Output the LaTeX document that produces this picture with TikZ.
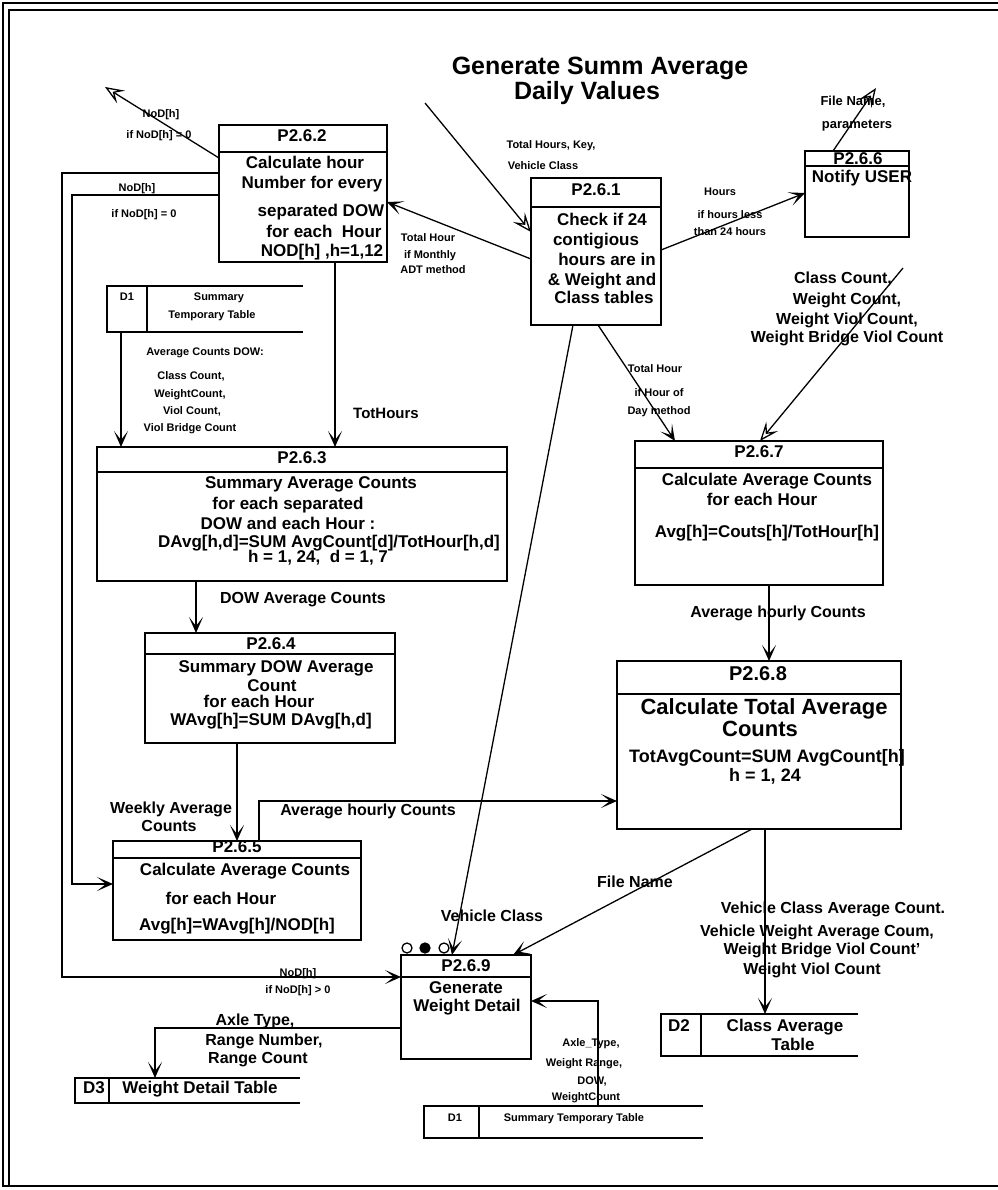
\documentclass[tikz,border=0pt]{standalone}
\usepackage{fontspec}
\setmainfont{Liberation Sans}
\usetikzlibrary{arrows.meta,calc}
\begin{document}
\begin{tikzpicture}[x=1pt,y=-1pt,
  proc/.style={draw, line width=1.8pt, anchor=north west, inner sep=0pt, outer sep=0pt},
  store/.style={anchor=north west, inner sep=0pt, outer sep=0pt},
  conn/.style={line width=1.8pt, -{Stealth[length=16pt,width=14pt,inset=9pt]}},
  diag/.style={line width=1.3pt, -{Stealth[length=16pt,width=14pt,inset=9pt]}},
  odiag/.style={line width=1.3pt, -{Stealth[open,fill=white,length=19pt,width=15pt,inset=8pt]}},
  plain/.style={line width=1.8pt},
  txt/.style={inner sep=0pt, text height=0.72em, text depth=0pt},
  hdr/.style={txt, font=\bfseries\fontsize{17}{19}\selectfont},
  body/.style={txt, font=\bfseries\fontsize{17}{19}\selectfont},
  small/.style={txt, font=\bfseries\fontsize{11}{12}\selectfont},
  mid/.style={txt, font=\bfseries\fontsize{16}{18}\selectfont},
]
\useasboundingbox (0,0) rectangle (997,1190);
% frame
\draw[plain] (1000,3) -- (3,3) -- (3,1186) -- (1000,1186);
\draw[plain] (1000,10) -- (9,10) -- (9,1186);

% title
\node[txt, font=\bfseries\fontsize{25}{28}\selectfont] (title1) at (600,71) {Generate Summ Average};
\node[txt, font=\bfseries\fontsize{25}{28}\selectfont] (title2) at (587,96) {Daily Values};

% process boxes
\node[proc, minimum width=168pt, minimum height=137pt] (p262) at (219,125) {};
\node[proc, minimum width=130pt, minimum height=147pt] (p261) at (531,178) {};
\node[proc, minimum width=104pt, minimum height=86pt] (p266) at (805,151) {};
\node[proc, minimum width=248pt, minimum height=144pt] (p267) at (635,441) {};
\node[proc, minimum width=410pt, minimum height=134pt] (p263) at (97,447) {};
\node[proc, minimum width=250pt, minimum height=110pt] (p264) at (145,633) {};
\node[proc, minimum width=248pt, minimum height=99pt] (p265) at (113,841) {};
\node[proc, minimum width=284pt, minimum height=168pt] (p268) at (617,661) {};
\node[proc, minimum width=130pt, minimum height=104pt] (p269) at (401,955) {};

% dividers
\draw[plain] ($(p262.north west)+(0,27)$) -- ($(p262.north east)+(0,27)$);
\draw[plain] ($(p261.north west)+(0,29)$) -- ($(p261.north east)+(0,29)$);
\draw[plain] ($(p266.north west)+(0,15)$) -- ($(p266.north east)+(0,15)$);
\draw[plain] ($(p267.north west)+(0,27)$) -- ($(p267.north east)+(0,27)$);
\draw[plain] ($(p263.north west)+(0,25)$) -- ($(p263.north east)+(0,25)$);
\draw[plain] ($(p264.north west)+(0,21)$) -- ($(p264.north east)+(0,21)$);
\draw[plain] ($(p265.north west)+(0,17)$) -- ($(p265.north east)+(0,17)$);
\draw[plain] ($(p268.north west)+(0,33)$) -- ($(p268.north east)+(0,33)$);
\draw[plain] ($(p269.north west)+(0,22)$) -- ($(p269.north east)+(0,22)$);

% data stores
\node[store, minimum width=196pt, minimum height=46pt] (d1a) at (107,286) {};
\node[store, minimum width=279pt, minimum height=32pt] (d1b) at (424,1106) {};
\node[store, minimum width=197pt, minimum height=42pt] (d2) at (661,1014) {};
\node[store, minimum width=225pt, minimum height=25pt] (d3) at (75,1078) {};
\draw[plain] (d1a.north east) -- (d1a.north west) -- (d1a.south west) -- (d1a.south east);
\draw[plain] ($(d1a.north west)+(40,0)$) -- ($(d1a.south west)+(40,0)$);
\draw[plain] (d1b.north east) -- (d1b.north west) -- (d1b.south west) -- (d1b.south east);
\draw[plain] ($(d1b.north west)+(55,0)$) -- ($(d1b.south west)+(55,0)$);
\draw[plain] (d2.north east) -- (d2.north west) -- (d2.south west) -- (d2.south east);
\draw[plain] ($(d2.north west)+(40,0)$) -- ($(d2.south west)+(40,0)$);
\draw[plain] (d3.north east) -- (d3.north west) -- (d3.south west) -- (d3.south east);
\draw[plain] ($(d3.north west)+(34,0)$) -- ($(d3.south west)+(34,0)$);

% circles above P2.6.9
\node[circle, draw, line width=1.3pt, minimum size=10pt, inner sep=0pt] (c1) at (407,948) {};
\node[circle, draw, fill=black, line width=1.3pt, minimum size=10pt, inner sep=0pt] (c2) at (425,948) {};
\node[circle, draw, line width=1.3pt, minimum size=10pt, inner sep=0pt] (c3) at (444,948) {};

% free ends
\coordinate (src1) at (425,103);
\coordinate (snk4) at (876,88);
\coordinate (snk5) at (105,87);
\coordinate (src14) at (903,268);

% connectors
\draw[odiag] (src1) -- ($(p261.north west)+(0,54)$);
\draw[diag] ($(p261.north west)+(0,81)$) -- ($(p262.north east)+(0,77)$);
\draw[diag] ($(p261.north east)+(0,72)$) -- ($(p266.north west)+(0,42)$);
\draw[odiag] ($(p266.north west)+(28,0)$) -- (snk4);
\draw[odiag] ($(p262.north west)+(0,33)$) -- (snk5);
\draw[conn] ($(p262.north west)+(0,48)$) -- ++(-157,0) |- ($(p269.north west)+(0,22)$);
\draw[conn] ($(p262.north west)+(0,70)$) -- ++(-147,0) |- ($(p265.north west)+(0,43)$);
\draw[conn] ($(d1a.south west)+(14,0)$) -- ($(p263.north west)+(24,0)$);
\draw[conn] ($(p262.south west)+(116,0)$) -- ($(p263.north west)+(238,0)$);
\draw[conn] ($(p263.south west)+(99,0)$) -- ($(p264.north west)+(51,0)$);
\draw[conn] ($(p264.south west)+(92,0)$) -- ($(p265.north west)+(124,0)$);
\draw[conn] ($(p265.north west)+(146,0)$) |- ($(p268.north west)+(0,140)$);
\draw[diag] ($(p261.south west)+(67,0)$) -- ($(p267.north west)+(40,0)$);
\draw[odiag] (src14) -- ($(p267.north west)+(125,0)$);
\draw[conn] ($(p267.south west)+(134,0)$) -- ($(p268.north west)+(152,0)$);
\draw[diag] ($(p261.south west)+(42,0)$) -- ($(p269.north west)+(51,0)$);
\draw[diag] ($(p268.south west)+(135,0)$) -- ($(p269.north west)+(112,0)$);
\draw[conn] ($(p268.south west)+(148,0)$) -- ($(d2.north west)+(104,0)$);
\draw[conn] ($(p269.north west)+(0,73)$) -| ($(d3.north west)+(80,0)$);
\draw[conn] ($(d1b.north west)+(174,0)$) |- ($(p269.north east)+(0,46)$);

% box texts
\node[hdr] (h262) at (302,138) {P2.6.2};
\node[body] (b262a) at (305,165) {Calculate hour};
\node[body] (b262b) at (312,185) {Number for every};
\node[body] (b262c) at (321,213) {separated DOW};
\node[body] (b262d) at (324,234) {for each\ \ Hour};
\node[body] (b262e) at (322,253) {NOD[h] ,h=1,12};

\node[hdr] (h261) at (596,192) {P2.6.1};
\node[body] (b261a) at (602,222) {Check if 24};
\node[body] (b261b) at (596,242) {contigious};
\node[body] (b261c) at (607,262) {hours are in};
\node[body] (b261d) at (602,282) {\& Weight and};
\node[body] (b261e) at (604,300) {Class tables};

\node[hdr] (h266) at (858,161) {P2.6.6};
\node[body] (b266) at (862,179) {Notify USER};

\node[hdr] (h267) at (759,454) {P2.6.7};
\node[body] (b267a) at (767,482) {Calculate Average Counts};
\node[body] (b267b) at (762,502) {for each Hour};
\node[body] (b267c) at (767,534) {Avg[h]=Couts[h]/TotHour[h]};

\node[hdr] (h263) at (302,460) {P2.6.3};
\node[body] (b263a) at (311,485) {Summary Average Counts};
\node[body] (b263b) at (288,506) {for each separated};
\node[body] (b263c) at (288,526) {DOW and each Hour :};
\node[body] (b263d) at (329,544) {DAvg[h,d]=SUM AvgCount[d]/TotHour[h,d]};
\node[body] (b263e) at (318,559) {h = 1, 24,\ \ d = 1, 7};

\node[hdr] (h264) at (271,646) {P2.6.4};
\node[body] (b264a) at (276,669) {Summary DOW Average};
\node[body] (b264b) at (272,688) {Count};
\node[body] (b264c) at (259,704) {for each Hour};
\node[body] (b264d) at (271,722) {WAvg[h]=SUM DAvg[h,d]};

\node[hdr] (h265) at (237,849) {P2.6.5};
\node[body] (b265a) at (245,872) {Calculate Average Counts};
\node[body] (b265b) at (221,901) {for each Hour};
\node[body] (b265c) at (237,927) {Avg[h]=WAvg[h]/NOD[h]};

\node[txt, font=\bfseries\fontsize{20}{22}\selectfont] (h268) at (758,677) {P2.6.8};
\node[txt, font=\bfseries\fontsize{22}{24}\selectfont] (b268a) at (764,711) {Calculate Total Average};
\node[txt, font=\bfseries\fontsize{22}{24}\selectfont] (b268b) at (760,733) {Counts};
\node[txt, font=\bfseries\fontsize{18}{20}\selectfont] (b268c) at (767,759) {TotAvgCount=SUM AvgCount[h]};
\node[txt, font=\bfseries\fontsize{18}{20}\selectfont] (b268d) at (765,778) {h = 1, 24};

\node[hdr] (h269) at (466,968) {P2.6.9};
\node[body] (b269a) at (466,990) {Generate};
\node[body] (b269b) at (467,1008) {Weight Detail};

% store texts
\node[small] (s1a) at (127,297) {D1};
\node[small] (s1b) at (219,297) {Summary};
\node[small] (s1c) at (212,315) {Temporary Table};
\node[small] (s2a) at (455,1118) {D1};
\node[small] (s2b) at (574,1118) {Summary Temporary Table};
\node[body] (s3a) at (679,1028) {D2};
\node[body] (s3b) at (785,1028) {Class Average};
\node[body] (s3c) at (793,1047) {Table};
\node[body] (s4a) at (94,1090) {D3};
\node[body] (s4b) at (200,1090) {Weight Detail Table};

% labels
\node[small] (l1) at (161,114) {NoD[h]};
\node[small] (l2) at (159,135) {if NoD[h] = 0};
\node[small] (l3) at (137,188) {NoD[h]};
\node[small] (l4) at (144,214) {if NoD[h] = 0};
\node[small] (l5) at (298,973) {NoD[h]};
\node[small] (l6) at (298,990) {if NoD[h] \textgreater{} 0};
\node[small] (l7) at (551,145) {Total Hours, Key,};
\node[small] (l8) at (543,166) {Vehicle Class};
\node[small] (l9) at (428,238) {Total Hour};
\node[small] (l10) at (430,255) {if Monthly};
\node[small] (l11) at (433,270) {ADT method};
\node[small] (l12) at (720,192) {Hours};
\node[small] (l13) at (730,215) {if hours less};
\node[small] (l14) at (730,232) {than 24 hours};
\node[txt, font=\bfseries\fontsize{13}{15}\selectfont] (l15) at (853,102) {File Name,};
\node[txt, font=\bfseries\fontsize{13}{15}\selectfont] (l16) at (857,125) {parameters};
\node[mid] (l17) at (843,280) {Class Count,};
\node[mid] (l18) at (847,301) {Weight Count,};
\node[mid] (l19) at (847,321) {Weight Viol Count,};
\node[mid] (l20) at (847,339) {Weight Bridge Viol Count};
\node[small] (l21) at (655,369) {Total Hour};
\node[small] (l22) at (659,393) {if Hour of};
\node[small] (l23) at (659,411) {Day method};
\node[small] (l24) at (205,352) {Average Counts DOW:};
\node[small] (l25) at (191,376) {Class Count,};
\node[small] (l26) at (190,394) {WeightCount,};
\node[small] (l27) at (192,411) {Viol Count,};
\node[small] (l28) at (190,428) {Viol Bridge Count};
\node[txt, font=\bfseries\fontsize{15}{17}\selectfont] (l29) at (386,415) {TotHours};
\node[mid] (l30) at (303,600) {DOW Average Counts};
\node[mid] (l31) at (171,810) {Weekly Average};
\node[mid] (l32) at (169,828) {Counts};
\node[mid] (l33) at (368,812) {Average hourly Counts};
\node[mid] (l34) at (778,614) {Average hourly Counts};
\node[mid] (l35) at (635,884) {File Name};
\node[mid] (l36) at (492,918) {Vehicle Class};
\node[mid] (l37) at (833,910) {Vehicle Class Average Count.};
\node[mid] (l38) at (817,933) {Vehicle Weight Average Coum,};
\node[mid] (l39) at (822,951) {Weight Bridge Viol Count'};
\node[mid] (l40) at (812,971) {Weight Viol Count};
\node[mid] (l41) at (255,1022) {Axle Type,};
\node[mid] (l42) at (264,1042) {Range Number,};
\node[mid] (l43) at (258,1060) {Range Count};
\node[small] (l44) at (591,1043) {Axle\_Type,};
\node[small] (l45) at (584,1063) {Weight Range,};
\node[small] (l46) at (592,1081) {DOW,};
\node[small] (l47) at (586,1097) {WeightCount};
\end{tikzpicture}
\end{document}
